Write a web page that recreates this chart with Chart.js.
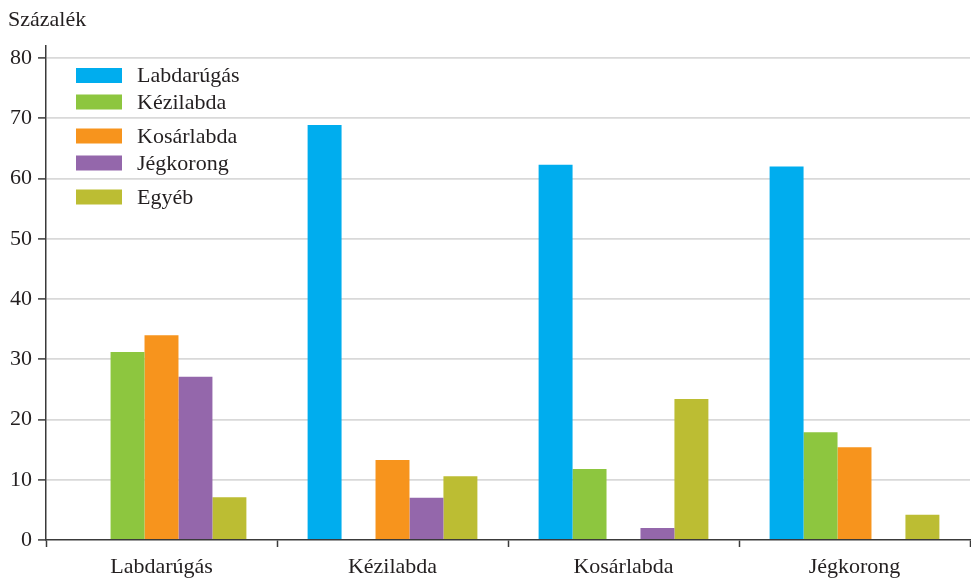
<!DOCTYPE html>
<html>
<head>
<meta charset="utf-8">
<script src="https://cdn.jsdelivr.net/npm/chart.js@4/dist/chart.umd.min.js"></script>
<style>
  html, body { margin: 0; padding: 0; background: #ffffff; }
  #wrap { width: 971px; height: 578px; }
</style>
</head>
<body>
<div id="wrap"><canvas id="c" width="971" height="578"></canvas></div>
<script>
const categories = ['Labdarúgás', 'Kézilabda', 'Kosárlabda', 'Jégkorong'];
const seriesNames = ['Labdarúgás', 'Kézilabda', 'Kosárlabda', 'Jégkorong', 'Egyéb'];
const labdarugas = [null, 68.9, 62.3, 62.0];
const kezilabda = [31.2, null, 11.8, 17.9];
const kosarlabda = [34.0, 13.3, null, 15.4];
const jegkorong = [27.1, 7.0, 2.0, null];
const egyeb = [7.1, 10.6, 23.4, 4.2];
const yTickValues = [0, 10, 20, 30, 40, 50, 60, 70, 80];
const yTitle = 'Százalék';

const colors = ['#00adee', '#8dc63f', '#f7941d', '#9467ab', '#bcbd33'];
const seriesData = [labdarugas, kezilabda, kosarlabda, jegkorong, egyeb];
const FONT = '"Liberation Serif", "DejaVu Serif", serif';
const FS = 22;

const overlay = {
  id: 'overlay',
  afterDraw(chart) {
    const ctx = chart.ctx;
    ctx.save();
    ctx.fillStyle = '#231f20';
    ctx.font = FS + 'px ' + FONT;
    ctx.textBaseline = 'middle';
    ctx.textAlign = 'left';
    ctx.fillText(yTitle, 8, 20);
    const rows = [75.5, 102, 136, 163, 197];
    chart.data.datasets.forEach((ds, i) => {
      const y = rows[i];
      ctx.fillStyle = ds.backgroundColor;
      ctx.fillRect(76, y - 7.5, 46, 15);
      ctx.fillStyle = '#231f20';
      ctx.fillText(ds.label, 137, y + 1);
    });
    ctx.restore();
  }
};

new Chart(document.getElementById('c'), {
  type: 'bar',
  data: {
    labels: categories,
    datasets: seriesNames.map((n, i) => ({
      label: n,
      data: seriesData[i],
      backgroundColor: colors[i],
      borderWidth: 0,
      barPercentage: 1.0,
      categoryPercentage: 0.735
    }))
  },
  options: {
    responsive: false,
    animation: false,
    layout: { padding: { top: 46, right: 1, left: 0, bottom: 0 } },
    plugins: {
      legend: { display: false },
      tooltip: { enabled: false },
      title: { display: false }
    },
    scales: {
      x: {
        grid: {
          display: true,
          drawOnChartArea: false,
          drawTicks: true,
          tickLength: 7,
          tickColor: '#3a3a3a',
          tickWidth: 1.5,
          offset: true
        },
        border: { display: true, color: '#3a3a3a', width: 1.5 },
        ticks: {
          color: '#231f20',
          font: { family: FONT, size: FS },
          padding: 7,
          maxRotation: 0
        },
        afterFit(scale) { scale.height = 38; }
      },
      y: {
        min: 0,
        max: 82,
        afterBuildTicks(scale) {
          scale.ticks = yTickValues.map(v => ({ value: v }));
        },
        grid: {
          color: (ctx) => ctx.tick && ctx.tick.value === 0 ? 'rgba(0,0,0,0)' : '#d9d9d9',
          lineWidth: 1.8,
          drawTicks: true,
          tickLength: 8,
          tickColor: '#3a3a3a',
          tickWidth: 1.5
        },
        border: { display: true, color: '#3a3a3a', width: 1.5 },
        ticks: {
          color: '#231f20',
          font: { family: FONT, size: FS },
          padding: 6
        },
        afterFit(scale) { scale.width = 46; }
      }
    }
  },
  plugins: [overlay]
});
</script>
</body>
</html>
